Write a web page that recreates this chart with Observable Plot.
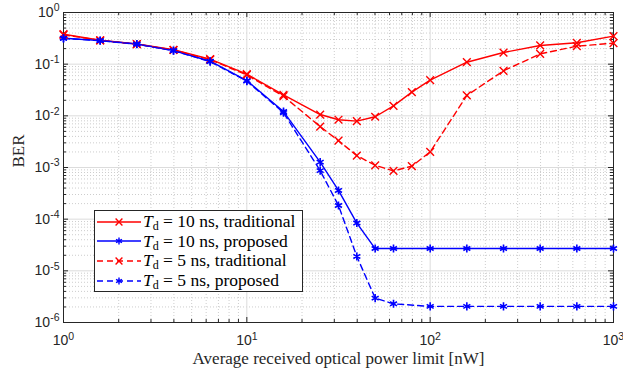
<!DOCTYPE html>
<html><head><meta charset="utf-8">
<script src="https://cdn.jsdelivr.net/npm/d3@7"></script>
<script src="https://cdn.jsdelivr.net/npm/@observablehq/plot@0.6"></script>
<style>
body{margin:0;background:#fff;}
#wrap{position:relative;width:623px;height:369px;}
#legend{position:absolute;left:94px;top:210px;width:209px;height:82px;border:1px solid #262626;background:#fff;font-family:"Liberation Serif",serif;font-size:17.5px;color:#000;box-sizing:border-box;}
.row{position:absolute;left:0;height:20px;display:flex;align-items:center;white-space:nowrap;}
.row svg{display:block;margin-left:2px;margin-right:2px;}
.row sub{font-size:12px;vertical-align:-3px;line-height:0;}
</style></head><body><div id="wrap"></div>
<script>
// ---- data ----
const powerTraditional = [1, 1.585, 2.512, 3.981, 6.31, 10, 15.85, 25.12, 31.62, 39.81, 50.12, 63.1, 79.43, 100, 158.5, 251.2, 398.1, 631, 1000];
const powerProposed    = [1, 1.585, 2.512, 3.981, 6.31, 10, 15.85, 25.12, 31.62, 39.81, 50.12, 63.1, 100, 158.5, 251.2, 398.1, 631, 1000];
const ber10Traditional = [0.38, 0.29, 0.245, 0.19, 0.125, 0.064, 0.0255, 0.0106, 0.0084, 0.0079, 0.0096, 0.0156, 0.0287, 0.049, 0.109, 0.168, 0.23, 0.259, 0.348];
const ber5Traditional  = [0.37, 0.29, 0.243, 0.188, 0.122, 0.062, 0.024, 0.0062, 0.0033, 0.0017, 0.0011, 0.00086, 0.00106, 0.002, 0.0248, 0.0743, 0.158, 0.223, 0.255];
const ber10Proposed    = [0.318, 0.287, 0.245, 0.184, 0.114, 0.048, 0.0121, 0.00127, 0.00036, 0.000084, 0.000027, 0.000027, 0.000027, 0.000027, 0.000027, 0.000027, 0.000027, 0.000027];
const ber5Proposed     = [0.316, 0.285, 0.243, 0.182, 0.112, 0.047, 0.0115, 0.00087, 0.000184, 0.000019, 0.00000296, 0.0000023, 0.00000205, 0.00000205, 0.00000205, 0.00000205, 0.00000205, 0.00000205];
const seriesNames = ["T_d = 10 ns, traditional", "T_d = 10 ns, proposed", "T_d = 5 ns, traditional", "T_d = 5 ns, proposed"];
const xTickExp = [0, 1, 2, 3];
const yTickExp = [-6, -5, -4, -3, -2, -1, 0];
const xLabel = "Average received optical power limit [nW]";
const yLabel = "BER";

// ---- derived tables ----
const mk = (xs, ys, name) => xs.map((x, i) => ({x, y: ys[i], name}));
const s1 = mk(powerTraditional, ber10Traditional, seriesNames[0]);
const s2 = mk(powerProposed, ber10Proposed, seriesNames[1]);
const s3 = mk(powerTraditional, ber5Traditional, seriesNames[2]);
const s4 = mk(powerProposed, ber5Proposed, seriesNames[3]);

const xMajor = xTickExp.map(e => Math.pow(10, e));
const yMajor = yTickExp.map(e => Math.pow(10, e));
const minorOf = majors => majors.slice(0, -1).flatMap(m => [2,3,4,5,6,7,8,9].map(k => k * m));
const xMinor = minorOf(xMajor);
const yMinor = minorOf(yMajor);

const W = 623, H = 369, mL = 63, mR = 10, mT = 12, mB = 47;
const innerH = H - mT - mB, innerW = W - mL - mR;
const tickC = "#262626";

const plot = Plot.plot({
  width: W, height: H,
  marginLeft: mL, marginRight: mR, marginTop: mT, marginBottom: mB,
  x: {type: "log", domain: [1, 1000]},
  y: {type: "log", domain: [1e-6, 1]},
  style: {background: "#fff", overflow: "visible"},
  marks: [
    Plot.ruleX(xMinor, {x: d => d, stroke: "#c0c0c0", strokeDasharray: "1,2", strokeWidth: 0.8}),
    Plot.ruleY(yMinor, {y: d => d, stroke: "#c0c0c0", strokeDasharray: "1,2", strokeWidth: 0.8}),
    Plot.ruleX(xMajor, {x: d => d, stroke: "#dcdcdc", strokeWidth: 1}),
    Plot.ruleY(yMajor, {y: d => d, stroke: "#dcdcdc", strokeWidth: 1}),
    // inward ticks on all four sides
    Plot.ruleX(xMajor, {x: d => d, stroke: tickC, insetTop: innerH - 5}),
    Plot.ruleX(xMajor, {x: d => d, stroke: tickC, insetBottom: innerH - 5}),
    Plot.ruleX(xMinor, {x: d => d, stroke: tickC, insetTop: innerH - 3}),
    Plot.ruleX(xMinor, {x: d => d, stroke: tickC, insetBottom: innerH - 3}),
    Plot.ruleY(yMajor, {y: d => d, stroke: tickC, insetRight: innerW - 5}),
    Plot.ruleY(yMajor, {y: d => d, stroke: tickC, insetLeft: innerW - 5}),
    Plot.ruleY(yMinor, {y: d => d, stroke: tickC, insetRight: innerW - 3}),
    Plot.ruleY(yMinor, {y: d => d, stroke: tickC, insetLeft: innerW - 3}),
    Plot.frame({stroke: tickC, strokeWidth: 1}),
    // data
    Plot.line(s1, {x: "x", y: "y", stroke: "#ff0000", strokeWidth: 1.4}),
    Plot.line(s2, {x: "x", y: "y", stroke: "#0000ff", strokeWidth: 1.4}),
    Plot.line(s3, {x: "x", y: "y", stroke: "#ff0000", strokeWidth: 1.4, strokeDasharray: "6,4"}),
    Plot.line(s4, {x: "x", y: "y", stroke: "#0000ff", strokeWidth: 1.4, strokeDasharray: "6,4"}),
    Plot.dot(s1, {x: "x", y: "y", symbol: "times", r: 3.6, stroke: "#ff0000", strokeWidth: 1.4}),
    Plot.dot(s3, {x: "x", y: "y", symbol: "times", r: 3.6, stroke: "#ff0000", strokeWidth: 1.4}),
    Plot.dot(s2, {x: "x", y: "y", symbol: "asterisk", r: 3.8, stroke: "#0000ff", strokeWidth: 1.6}),
    Plot.dot(s4, {x: "x", y: "y", symbol: "asterisk", r: 3.8, stroke: "#0000ff", strokeWidth: 1.6}),
    // axes (labels only)
    Plot.axisX(xMajor, {tickSize: 0, tickPadding: 13, tickFormat: d => String(Math.round(Math.log10(d))), fontSize: 14, fontFamily: "Liberation Sans, Arial, sans-serif", fill: tickC, label: null}),
    Plot.axisY(yMajor, {tickSize: 0, tickPadding: 4, tickFormat: d => String(Math.round(Math.log10(d))), fontSize: 14, fontFamily: "Liberation Sans, Arial, sans-serif", fill: tickC, label: null}),
    Plot.text([xLabel], {frameAnchor: "bottom", dy: 41, text: d => d, fontSize: 17, fontFamily: "Liberation Serif, serif", fill: "#262626", lineAnchor: "bottom"}),
    Plot.text([yLabel], {frameAnchor: "left", dx: -45, rotate: -90, text: d => d, fontSize: 17, fontFamily: "Liberation Serif, serif", fill: "#262626"})
  ]
});

// superscript exponents on tick labels
d3.select(plot).selectAll('g[aria-label="x-axis tick label"] text, g[aria-label="y-axis tick label"] text').each(function() {
  const t = d3.select(this);
  const e = t.text();
  t.text("10");
  t.append("tspan").attr("dy", "-0.55em").attr("font-size", "10.5px").text(e);
});

const wrap = document.getElementById("wrap");
wrap.appendChild(plot);

// legend
const legend = document.createElement("div");
legend.id = "legend";
const styles = [
  {stroke: "#ff0000", dash: null, sym: d3.symbolTimes},
  {stroke: "#0000ff", dash: null, sym: d3.symbolAsterisk},
  {stroke: "#ff0000", dash: "6,4", sym: d3.symbolTimes},
  {stroke: "#0000ff", dash: "6,4", sym: d3.symbolAsterisk}
];
seriesNames.forEach((name, i) => {
  const row = document.createElement("div");
  row.className = "row";
  row.style.top = (0.5 + i * 19.7) + "px";
  const st = styles[i];
  const svg = d3.create("svg").attr("width", 44).attr("height", 20);
  svg.append("line").attr("x1", 0).attr("x2", 44).attr("y1", 10).attr("y2", 10)
    .attr("stroke", st.stroke).attr("stroke-width", 1.4).attr("stroke-dasharray", st.dash);
  svg.append("path").attr("d", d3.symbol(st.sym, 3.2 * 3.2 * Math.PI)()).attr("transform", "translate(22,10)")
    .attr("fill", "none").attr("stroke", st.stroke).attr("stroke-width", 1.4);
  row.appendChild(svg.node());
  const [lhs, rhs] = name.split(" = ");
  const span = document.createElement("span");
  span.innerHTML = "<i>T</i><sub>d</sub> = " + rhs;
  row.appendChild(span);
  legend.appendChild(row);
});
wrap.appendChild(legend);
</script></body></html>
